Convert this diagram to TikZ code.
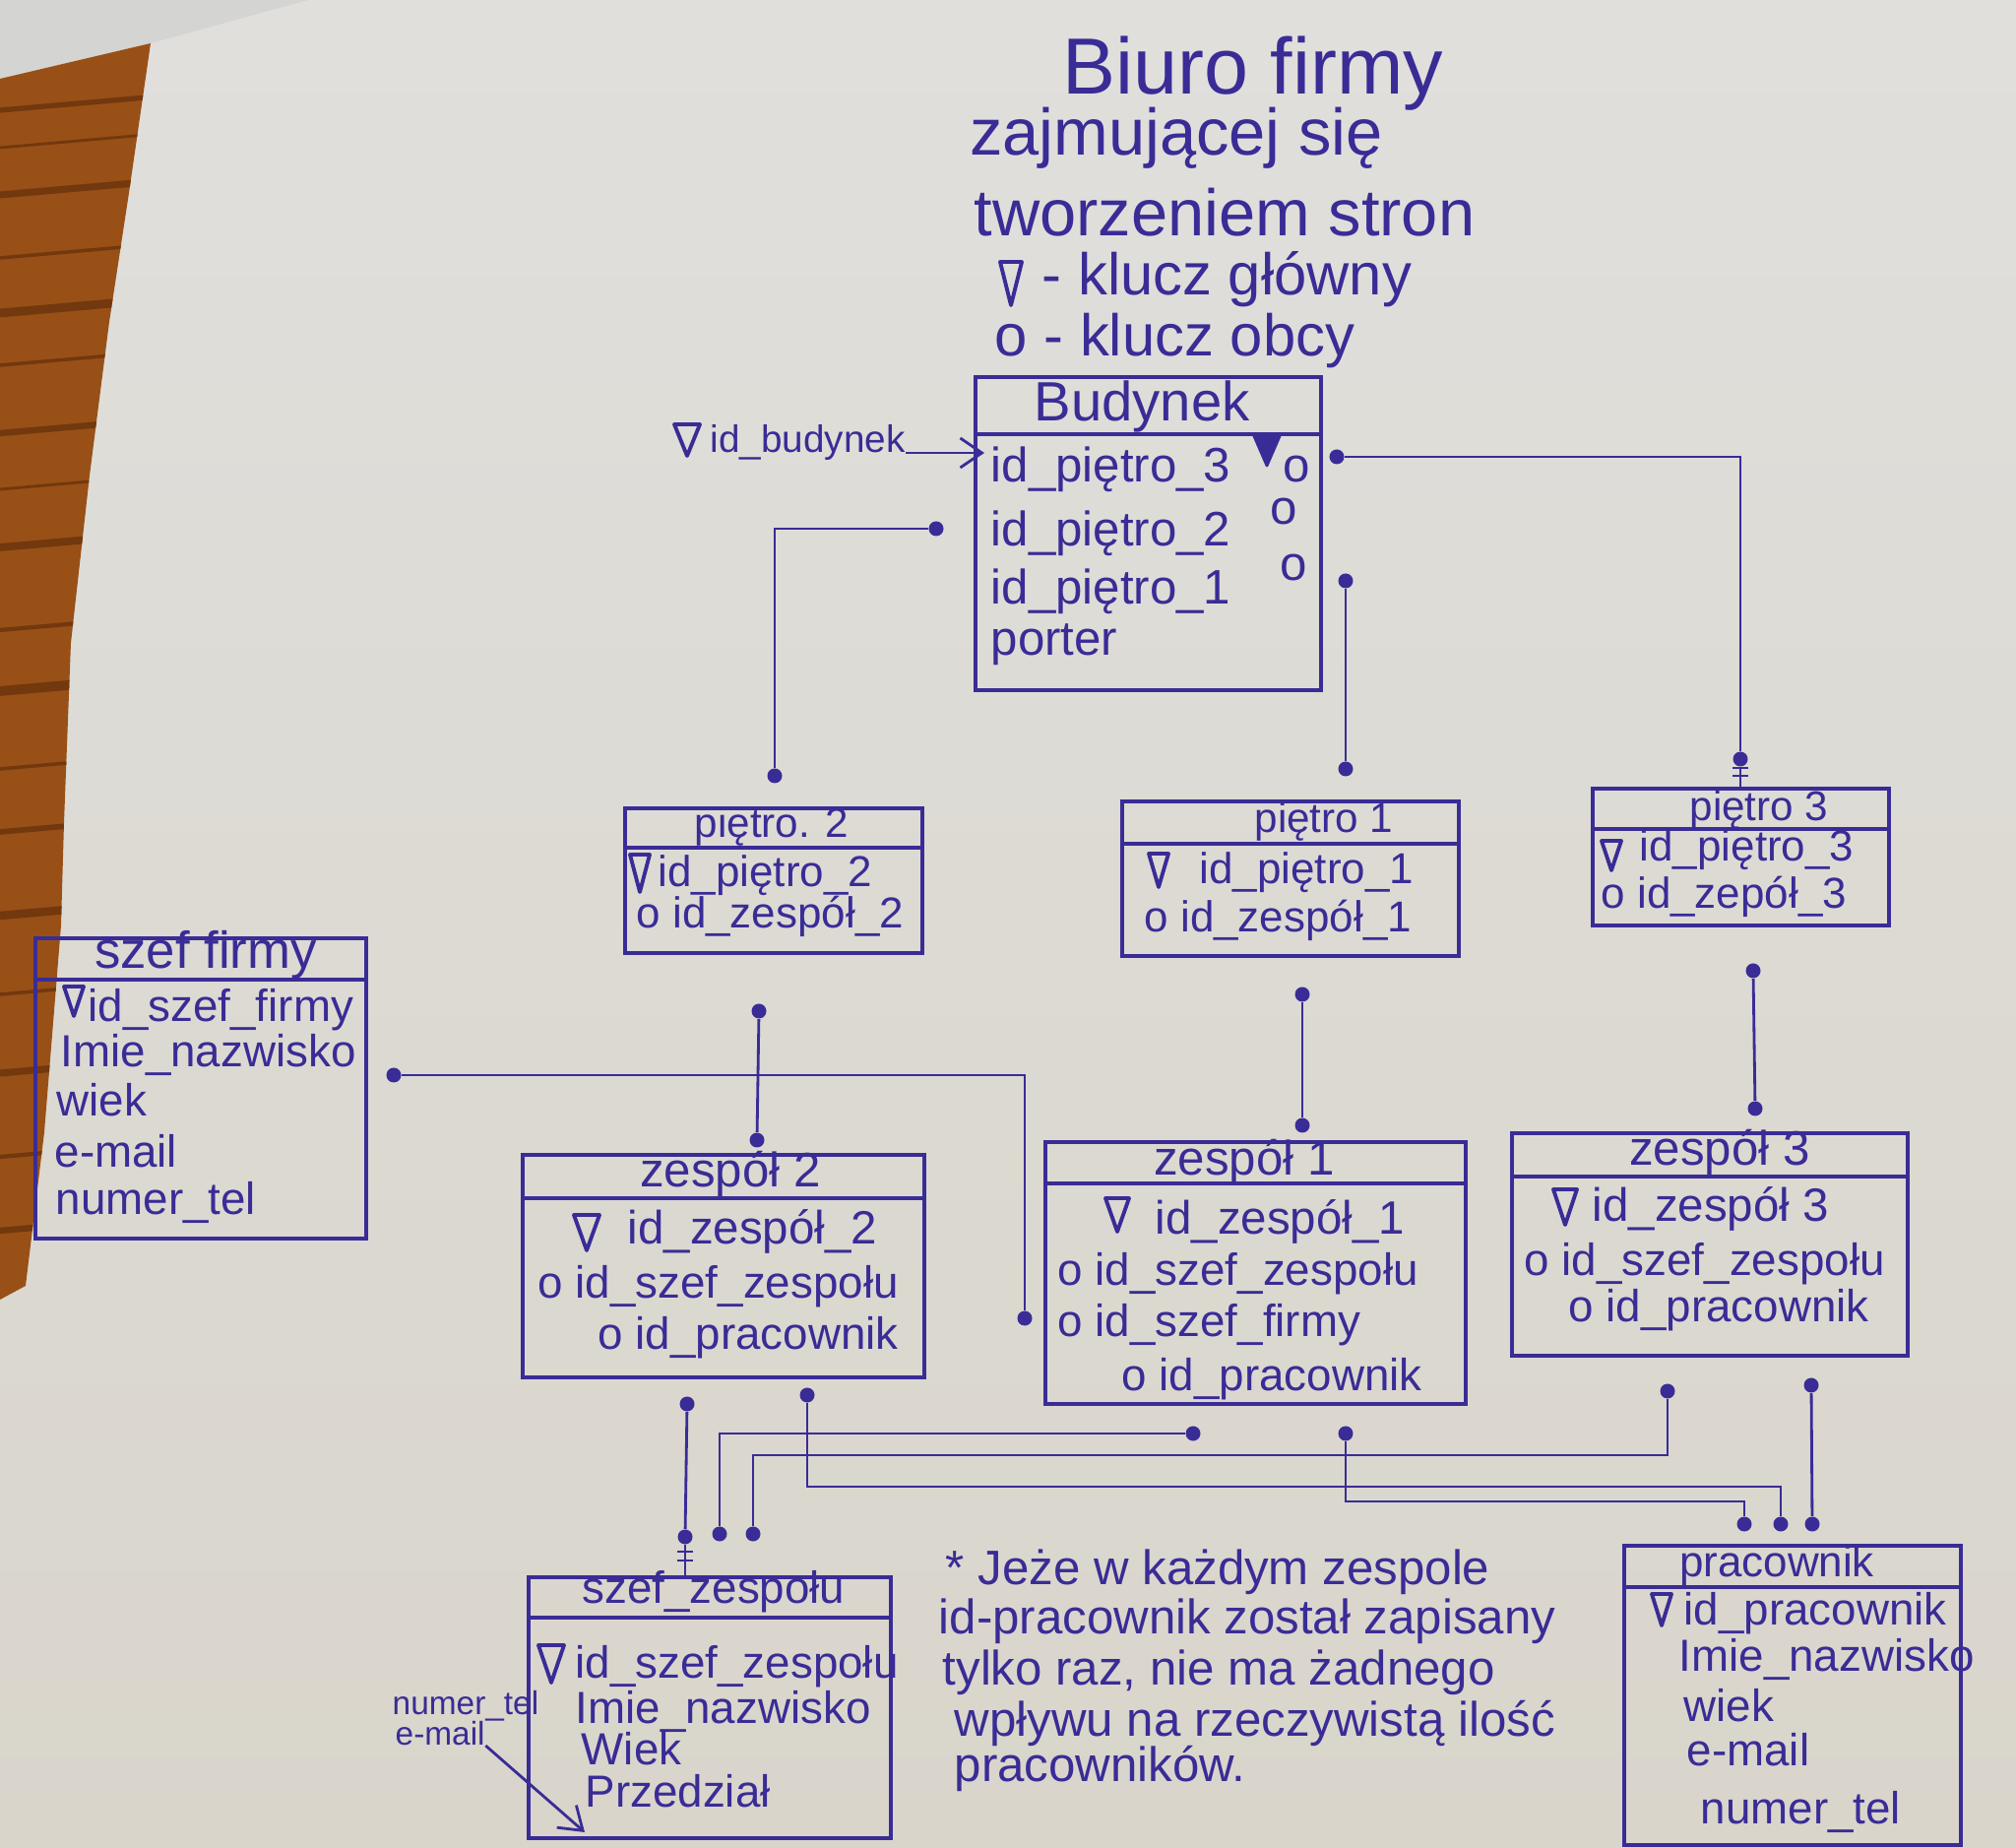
\documentclass[tikz,border=0pt]{standalone}
\usepackage{fontspec}
\setmainfont{Liberation Sans}
\usetikzlibrary{arrows.meta}

\definecolor{ink}{RGB}{58,44,150}
\definecolor{paper}{RGB}{224,223,220}
\definecolor{paperlow}{RGB}{217,213,203}
\definecolor{sheet}{RGB}{212,212,210}
\definecolor{wood}{RGB}{152,80,22}
\definecolor{woodgrain}{RGB}{114,56,14}

\newcommand{\fsz}[1]{\fontsize{#1}{#1}\selectfont}

\tikzset{
  tbl/.style={draw=ink, line width=1.1pt, inner sep=0pt, anchor=north west},
  sep/.style={draw=ink, line width=1.1pt},
  conn/.style={draw=ink, line width=0.8pt},
  dot/.style={circle, fill=ink, inner sep=0pt, minimum size=0.15cm},
  hdr/.style={text=ink, anchor=base, inner sep=0pt},
  row/.style={text=ink, anchor=base west, inner sep=0pt},
  pkey/.pic={\draw[ink, line width=1.1pt, line join=round] (-1,-1) -- (1,-1) -- (0,1) -- cycle;},
  pkeyfill/.pic={\filldraw[ink, line width=0.8pt, line join=round] (-1,-1) -- (1,-1) -- (0,1) -- cycle;},
}

\begin{document}
\begin{tikzpicture}[x=0.01cm, y=-0.01cm]
  \useasboundingbox (0,0) rectangle (2048,1877);

  % Drawing the sheet and the table top
  \shade[top color=paper, bottom color=paperlow] (0,0) rectangle (2048,1877);
  \fill[sheet] (0,0) -- (313,0) -- (153,44) -- (0,80) -- cycle;
  \fill[wood] (0,80) -- (153,44) -- (131,196) -- (111,327) -- (91,483) -- (72,653)
    -- (65,836) -- (62,940) -- (45,1150) -- (26,1306) -- (0,1320) -- cycle;
  \begin{scope}
    \clip (0,80) -- (153,44) -- (131,196) -- (111,327) -- (91,483) -- (72,653)
      -- (65,836) -- (62,940) -- (45,1150) -- (26,1306) -- (0,1320) -- cycle;
    \foreach \gy/\gw in {112/1.5, 150/0.8, 198/2, 262/1, 318/2.5, 371/1, 440/1.8, 497/0.8, 556/2.2, 640/1.2, 702/2.8, 781/1, 845/1.6, 930/2.4, 1010/1, 1090/2, 1175/1.2, 1250/1.8}
      \draw[woodgrain, line width=\gw pt] (0,\gy) -- (160,\gy-14);
  \end{scope}

  % Title
  \node[hdr, font=\fsz{23}] (title1) at (1273,96) {Biuro firmy};
  \node[hdr, font=\fsz{19}] (title2) at (1195,158) {zajmującej się};
  \node[hdr, font=\fsz{19}] (title3) at (1244,240) {tworzeniem stron};

  % Legend
  \path (1027,288) pic[xscale=11, yscale=22] {pkey};
  \node[row, font=\fsz{17}] (legendpk) at (1058,300) {- klucz główny};
  \node[row, font=\fsz{17}] (legendfk) at (1010,362) {o - klucz obcy};

  % Drawing table Budynek
  \node[tbl, minimum width=3.51cm, minimum height=3.18cm] (budynek) at (989,381) {};
  \draw[sep] (989,441) -- (1340,441);
  \node[hdr, font=\fsz{16}] (budynekhdr) at (1160,428) {Budynek};
  \node[row, font=\fsz{14}] (budynek1) at (1006,490) {id\_piętro\_3};
  \path (1287,458) pic[xscale=13, yscale=15] {pkeyfill};
  \node[row, font=\fsz{14}] (budynek1fk) at (1303,490) {o};
  \node[row, font=\fsz{14}] (budynek2) at (1006,555) {id\_piętro\_2};
  \node[row, font=\fsz{14}] (budynek2fk) at (1290,533) {o};
  \node[row, font=\fsz{14}] (budynek3) at (1006,614) {id\_piętro\_1};
  \node[row, font=\fsz{14}] (budynek3fk) at (1300,590) {o};
  \node[row, font=\fsz{14}] (budynek4) at (1006,666) {porter};

  % Marking key id_budynek
  \path (698,447) pic[xscale=13, yscale=16] {pkey};
  \node[row, font=\fsz{11}] (idbudynek) at (721,460) {id\_budynek};
  \coordinate (budynekin) at (1000,460);
  \draw[conn, -{Straight Barb[length=2.2mm, width=3mm]}] (idbudynek.base east) -- (budynekin);

  % Drawing table pietro 2
  \node[tbl, minimum width=3.02cm, minimum height=1.47cm] (pietro2) at (633,819) {};
  \draw[sep] (633,861) -- (935,861);
  \node[hdr, font=\fsz{12}] (pietro2hdr) at (784,851) {piętro. 2};
  \path (650,887) pic[xscale=10, yscale=19] {pkey};
  \node[row, font=\fsz{12.5}] (pietro21) at (668,901) {id\_piętro\_2};
  \node[row, font=\fsz{12.5}] (pietro22) at (646,943) {o id\_zespół\_2};

  % Drawing table pietro 1
  \node[tbl, minimum width=3.42cm, minimum height=1.57cm] (pietro1) at (1138,812) {};
  \draw[sep] (1138,857) -- (1480,857);
  \node[hdr, font=\fsz{12}] (pietro1hdr) at (1345,846) {piętro 1};
  \path (1177,884) pic[xscale=10, yscale=17] {pkey};
  \node[row, font=\fsz{12.5}] (pietro11) at (1218,898) {id\_piętro\_1};
  \node[row, font=\fsz{12.5}] (pietro12) at (1162,947) {o id\_zespół\_1};

  % Drawing table pietro 3
  \node[tbl, minimum width=3.01cm, minimum height=1.39cm] (pietro3) at (1616,799) {};
  \draw[sep] (1616,842) -- (1917,842);
  \node[hdr, font=\fsz{12}] (pietro3hdr) at (1787,834) {piętro 3};
  \path (1637,869) pic[xscale=10, yscale=15] {pkey};
  \node[row, font=\fsz{12.5}] (pietro31) at (1665,875) {id\_piętro\_3};
  \node[row, font=\fsz{12.5}] (pietro32) at (1626,923) {o id\_zepół\_3};

  % Drawing table szef firmy
  \node[tbl, minimum width=3.36cm, minimum height=3.05cm] (szeffirmy) at (34,951) {};
  \draw[sep] (34,995) -- (370,995);
  \node[hdr, font=\fsz{15}] (szeffirmyhdr) at (209,984) {szef firmy};
  \path (75,1017) pic[xscale=10, yscale=15] {pkey};
  \node[row, font=\fsz{13}] (szeffirmy1) at (89,1038) {id\_szef\_firmy};
  \node[row, font=\fsz{13}] (szeffirmy2) at (61,1084) {Imie\_nazwisko};
  \node[row, font=\fsz{13}] (szeffirmy3) at (57,1134) {wiek};
  \node[row, font=\fsz{13}] (szeffirmy4) at (55,1186) {e-mail};
  \node[row, font=\fsz{13}] (szeffirmy5) at (56,1234) {numer\_tel};

  % Drawing table zespol 2
  \node[tbl, minimum width=4.08cm, minimum height=2.26cm] (zespol2) at (529,1171) {};
  \draw[sep] (529,1217) -- (937,1217);
  \node[hdr, font=\fsz{14}] (zespol2hdr) at (742,1206) {zespół 2};
  \path (596,1252) pic[xscale=13, yscale=18] {pkey};
  \node[row, font=\fsz{13.5}] (zespol21) at (637,1264) {id\_zespół\_2};
  \node[row, font=\fsz{13}] (zespol22) at (546,1319) {o id\_szef\_zespołu};
  \node[row, font=\fsz{13}] (zespol23) at (607,1371) {o id\_pracownik};

  % Drawing table zespol 1
  \node[tbl, minimum width=4.27cm, minimum height=2.66cm] (zespol1) at (1060,1158) {};
  \draw[sep] (1060,1202) -- (1487,1202);
  \node[hdr, font=\fsz{14}] (zespol1hdr) at (1264,1194) {zespół 1};
  \path (1135,1234) pic[xscale=12, yscale=17] {pkey};
  \node[row, font=\fsz{13.5}] (zespol11) at (1173,1254) {id\_zespół\_1};
  \node[row, font=\fsz{13}] (zespol12) at (1074,1306) {o id\_szef\_zespołu};
  \node[row, font=\fsz{13}] (zespol13) at (1074,1358) {o id\_szef\_firmy};
  \node[row, font=\fsz{13}] (zespol14) at (1139,1413) {o id\_pracownik};

  % Drawing table zespol 3
  \node[tbl, minimum width=4.02cm, minimum height=2.26cm] (zespol3) at (1534,1149) {};
  \draw[sep] (1534,1195) -- (1936,1195);
  \node[hdr, font=\fsz{14}] (zespol3hdr) at (1747,1184) {zespół 3};
  \path (1590,1226) pic[xscale=12, yscale=18] {pkey};
  \node[row, font=\fsz{13.5}] (zespol31) at (1617,1241) {id\_zespół 3};
  \node[row, font=\fsz{13}] (zespol32) at (1548,1296) {o id\_szef\_zespołu};
  \node[row, font=\fsz{13}] (zespol33) at (1593,1343) {o id\_pracownik};

  % Drawing table szef_zespolu
  \node[tbl, minimum width=3.68cm, minimum height=2.65cm] (szefzespolu) at (535,1600) {};
  \draw[sep] (535,1643) -- (903,1643);
  \node[hdr, font=\fsz{13}] (szefzespoluhdr) at (725,1628) {szef\_zespołu};
  \path (560,1690) pic[xscale=13, yscale=19] {pkey};
  \node[row, font=\fsz{13}] (szefzespolu1) at (584,1704) {id\_szef\_zespołu};
  \node[row, font=\fsz{13}] (szefzespolu2) at (584,1750) {Imie\_nazwisko};
  \node[row, font=\fsz{13}] (szefzespolu3) at (590,1792) {Wiek};
  \node[row, font=\fsz{13}] (szefzespolu4) at (594,1835) {Przedział};

  % Marking side note numer_tel, e-mail
  \node[row, font=\fsz{9.5}] (sidetel) at (398,1741) {numer\_tel};
  \node[row, font=\fsz{9.5}] (sidemail) at (401,1772) {e-mail};
  \coordinate (przedzial) at (594,1861);
  \draw[conn, -{Straight Barb[length=2.2mm, width=3mm]}] (sidemail.south east) -- (przedzial);

  % Drawing table pracownik
  \node[tbl, minimum width=3.42cm, minimum height=3.04cm] (pracownik) at (1648,1568) {};
  \draw[sep] (1648,1612) -- (1990,1612);
  \node[hdr, font=\fsz{12.5}] (pracownikhdr) at (1805,1601) {pracownik};
  \path (1688,1635) pic[xscale=10, yscale=16] {pkey};
  \node[row, font=\fsz{13}] (pracownik1) at (1710,1650) {id\_pracownik};
  \node[row, font=\fsz{13}] (pracownik2) at (1705,1697) {Imie\_nazwisko};
  \node[row, font=\fsz{13}] (pracownik3) at (1710,1748) {wiek};
  \node[row, font=\fsz{13}] (pracownik4) at (1713,1793) {e-mail};
  \node[row, font=\fsz{13}] (pracownik5) at (1727,1852) {numer\_tel};

  % Note
  \node[row, font=\fsz{14}] (note1) at (960,1609) {* Jeże w każdym zespole};
  \node[row, font=\fsz{14}] (note2) at (953,1659) {id-pracownik został zapisany};
  \node[row, font=\fsz{14}] (note3) at (957,1711) {tylko raz, nie ma żadnego};
  \node[row, font=\fsz{14}] (note4) at (969,1763) {wpływu na rzeczywistą ilość};
  \node[row, font=\fsz{14}] (note5) at (969,1809) {pracowników.};

  % Connector ends
  \node[dot] (db2) at (951,537) {};
  \node[dot] (dp2) at (787,788) {};
  \node[dot] (db1) at (1367,590) {};
  \node[dot] (dp1) at (1367,781) {};
  \node[dot] (db3) at (1358,464) {};
  \node[dot] (dp3) at (1768,771) {};
  \node[dot] (dsf) at (400,1092) {};
  \node[dot] (dz1f) at (1041,1339) {};
  \node[dot] (dp2b) at (771,1027) {};
  \node[dot] (dz2t) at (769,1158) {};
  \node[dot] (dp1b) at (1323,1010) {};
  \node[dot] (dz1t) at (1323,1143) {};
  \node[dot] (dp3b) at (1781,986) {};
  \node[dot] (dz3t) at (1783,1126) {};
  \node[dot] (dz2a) at (698,1426) {};
  \node[dot] (dz2b) at (820,1417) {};
  \node[dot] (dz1a) at (1212,1456) {};
  \node[dot] (dz1b) at (1367,1456) {};
  \node[dot] (dz3a) at (1694,1413) {};
  \node[dot] (dz3b) at (1840,1407) {};
  \node[dot] (dsz1) at (696,1561) {};
  \node[dot] (dsz2) at (731,1558) {};
  \node[dot] (dsz3) at (765,1558) {};
  \node[dot] (dpr1) at (1772,1548) {};
  \node[dot] (dpr2) at (1809,1548) {};
  \node[dot] (dpr3) at (1841,1548) {};

  % Drawing connectors
  \draw[conn] (db2) -| (dp2);
  \draw[conn] (db1) -- (dp1);
  \draw[conn] (db3) -| (dp3);
  \draw[conn] (dp3) -- (1768,799);
  \draw[conn] (1760,780) -- (1776,780) (1760,788) -- (1776,788);
  \draw[conn] (dsf) -| (dz1f);
  \draw[conn] (dp2b) -- (dz2t);
  \draw[conn] (dp1b) -- (dz1t);
  \draw[conn] (dp3b) -- (dz3t);
  \draw[conn] (dz2a) -- (dsz1);
  \draw[conn] (dsz1) -- (696,1600);
  \draw[conn] (688,1576) -- (704,1576) (688,1585) -- (704,1585);
  \draw[conn] (dz1a) -| (dsz2);
  \draw[conn] (dz3a) -- (1694,1478) -| (dsz3);
  \draw[conn] (dz2b) -- (820,1510) -| (dpr2);
  \draw[conn] (dz1b) -- (1367,1525) -| (dpr1);
  \draw[conn] (dz3b) -- (dpr3);
\end{tikzpicture}
\end{document}
